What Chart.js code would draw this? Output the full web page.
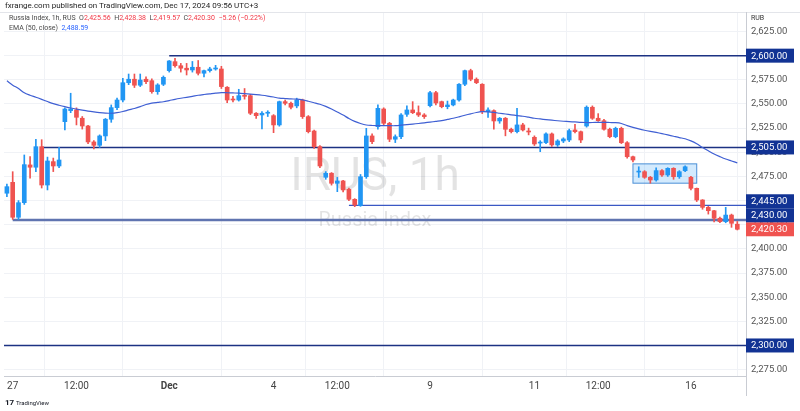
<!DOCTYPE html>
<html>
<head>
<meta charset="utf-8">
<script src="https://cdn.jsdelivr.net/npm/chart.js@4.4.0/dist/chart.umd.min.js"></script>
<style>
  html, body { margin: 0; padding: 0; background: #fff; }
  #wrap { position: relative; width: 800px; height: 411px; font-family: Roboto, "Liberation Sans", sans-serif; }
  #chart { position: absolute; left: 0; top: 0; }
  .hdr { position: absolute; white-space: nowrap; color: #4a4a4a; }
  .dn { color: #f23645; }
  .ema { color: #2962ff; }
</style>
</head>
<body>
<div id="wrap">
  <canvas id="chart" width="800" height="411"></canvas>
  <div class="hdr" style="left:5px;top:1px;font-size:8px;color:#1e1e1e">fxrange.com published on TradingView.com, Dec 17, 2024 09:56 UTC+3</div>
  <div class="hdr" style="left:9px;top:14px;font-size:7px">Russia Index, 1h, RUS&nbsp; O<span class="dn">2,425.56</span>&nbsp; H<span class="dn">2,428.38</span>&nbsp; L<span class="dn">2,419.57</span>&nbsp; C<span class="dn">2,420.30</span>&nbsp; <span class="dn">−5.26 (−0.22%)</span></div>
  <div class="hdr" style="left:9px;top:24px;font-size:7px">EMA (50, close)&nbsp; <span class="ema">2,488.59</span></div>
</div>
<script>
// trading days shown (Nov 27 – Dec 16), nine hourly bars per session
const days = ['27', '28', '29', '2', '3', '4', '5', '6', '9', '10', '11', '12', '13', '16'];
const sessionHours = ['10:00', '11:00', '12:00', '13:00', '14:00', '15:00', '16:00', '17:00', '18:00'];

// OHLC
const open = [
  2457.6, 2468.9, 2432.7, 2447.8, 2486.9, 2484.5, 2505.8, 2466.1, 2490.3, 2485.8,
  2531.7, 2543.1, 2543.8, 2535.2, 2527.2, 2510.7, 2507.2, 2516.9, 2534.2, 2546.2,
  2554.1, 2572.0, 2575.6, 2569.4, 2575.6, 2574.1, 2562.7, 2570.4, 2584.5, 2593.8,
  2589.6, 2587.0, 2585.2, 2588.0, 2581.8, 2584.5, 2586.2, 2586.2, 2567.3, 2554.8,
  2554.1, 2558.6, 2558.6, 2540.4, 2538.6, 2540.4, 2537.9, 2528.3, 2552.4, 2550.7,
  2548.0, 2554.1, 2536.9, 2522.0, 2505.8, 2474.1, 2478.3, 2467.9, 2470.3, 2461.7,
  2451.3, 2444.7, 2474.7, 2516.9, 2526.5, 2544.8, 2530.0, 2513.5, 2516.1, 2539.3,
  2543.8, 2541.0, 2538.6, 2548.2, 2561.7, 2552.4, 2547.2, 2549.0, 2554.1, 2570.4,
  2584.5, 2575.6, 2570.4, 2542.0, 2543.1, 2532.4, 2535.2, 2523.8, 2521.3, 2528.3,
  2522.0, 2515.5, 2509.5, 2510.0, 2519.0, 2507.6, 2511.7, 2512.7, 2523.1, 2521.3,
  2527.2, 2546.6, 2535.2, 2532.7, 2523.8, 2516.1, 2524.8, 2509.9, 2495.4, 2479.5,
  2479.9, 2474.1, 2471.3, 2481.0, 2476.5, 2483.4, 2474.7, 2480.9, 2474.1, 2462.7,
  2450.6, 2443.0, 2439.5, 2431.7, 2428.2, 2435.0, 2425.56
];
const high = [
  2467, 2479.9, 2450, 2497.2, 2495.5, 2513.4, 2513, 2495, 2494, 2505.2,
  2546, 2561.1, 2546, 2537, 2528, 2512, 2518, 2535, 2549, 2556,
  2576.6, 2581, 2581, 2581, 2578, 2576, 2571, 2579, 2595, 2597.3,
  2592, 2592, 2594, 2595, 2585, 2588, 2590, 2589, 2568, 2558,
  2565.2, 2566, 2560, 2541, 2542, 2543, 2539, 2553, 2554, 2552,
  2556, 2555, 2538, 2523, 2507, 2480, 2479, 2474, 2471, 2463,
  2452, 2477, 2524.8, 2519, 2549, 2546, 2531, 2518, 2540, 2548,
  2552.4, 2548, 2540, 2563, 2563, 2553, 2553, 2555, 2571, 2585,
  2586, 2577, 2571, 2546, 2544, 2536, 2536, 2525, 2545.5, 2530,
  2525, 2517, 2512, 2520, 2520, 2513, 2515, 2524, 2529, 2522,
  2548, 2548, 2540, 2534, 2525, 2526, 2526, 2511, 2496, 2485,
  2481, 2475, 2484, 2482, 2484, 2484, 2481, 2486, 2475, 2463,
  2451, 2444, 2440, 2433, 2443, 2436, 2428.38
];
const low = [
  2454, 2430.5, 2430.3, 2446, 2473.1, 2480, 2463, 2461, 2480, 2484,
  2523.1, 2541, 2528.3, 2524, 2509, 2503.4, 2505, 2512, 2531, 2544,
  2552, 2570, 2567, 2568, 2571, 2561.1, 2560, 2569, 2583, 2588,
  2583, 2580, 2583, 2580, 2578, 2583, 2585, 2566, 2551.3, 2552,
  2553, 2555, 2539, 2535, 2524.1, 2537, 2520.3, 2527, 2549, 2545,
  2546, 2535, 2520, 2504, 2484, 2472, 2466, 2459.2, 2459, 2450,
  2443.7, 2444, 2473, 2509, 2524, 2528, 2511, 2510, 2514, 2537,
  2540, 2537, 2535, 2547, 2549, 2546, 2545, 2548, 2553, 2569,
  2574, 2571, 2540, 2536, 2523.8, 2530, 2517, 2520, 2520, 2522,
  2518, 2507, 2500.6, 2509, 2506, 2506, 2510, 2511, 2520, 2510,
  2526, 2534, 2532, 2523, 2515, 2515, 2509, 2494, 2490, 2474,
  2473, 2468, 2470, 2475, 2475, 2472, 2473, 2480, 2461, 2449,
  2441, 2436, 2428, 2427, 2427, 2422.3, 2419.57
];
const close = [
  2464.4, 2432.7, 2447.8, 2487.2, 2484.5, 2505.8, 2466.1, 2491.0, 2485.8, 2492.0,
  2544.8, 2544.8, 2536.2, 2527.2, 2510.7, 2507.2, 2516.9, 2534.2, 2546.2, 2554.1,
  2572.0, 2575.6, 2569.4, 2574.8, 2573.1, 2562.7, 2569.7, 2577.6, 2594.5, 2589.6,
  2587.0, 2585.2, 2588.0, 2581.8, 2584.5, 2586.2, 2586.9, 2568.0, 2554.1, 2554.1,
  2558.6, 2557.9, 2540.4, 2537.9, 2540.4, 2541.0, 2528.3, 2552.4, 2550.7, 2546.6,
  2554.0, 2536.9, 2521.3, 2505.8, 2485.8, 2478.3, 2467.9, 2470.3, 2461.0, 2451.3,
  2445.4, 2474.7, 2516.9, 2511.0, 2545.5, 2530.0, 2513.5, 2516.1, 2538.6, 2543.8,
  2541.0, 2538.6, 2536.9, 2561.7, 2551.0, 2547.2, 2549.0, 2554.1, 2570.4, 2584.5,
  2575.6, 2572.0, 2542.0, 2543.8, 2532.4, 2535.2, 2523.8, 2521.3, 2528.3, 2523.1,
  2521.0, 2508.6, 2510.0, 2519.0, 2507.6, 2511.7, 2513.8, 2522.4, 2521.3, 2512.7,
  2546.6, 2535.2, 2532.7, 2523.8, 2516.1, 2524.8, 2509.9, 2495.4, 2492.0, 2480.0,
  2474.1, 2471.3, 2481.0, 2476.5, 2483.4, 2474.7, 2479.9, 2485.0, 2462.7, 2450.6,
  2443.0, 2439.5, 2431.7, 2428.2, 2435.0, 2426.5, 2420.30
];
// EMA(50, close) as drawn
const ema = [
  2574, 2569.5, 2566, 2561.5, 2559, 2557, 2554.8, 2552.5, 2550.3, 2548.7,
  2547.2, 2545.8, 2544.7, 2543.6, 2542.6, 2541.8, 2541.1, 2540.6, 2540.4, 2541,
  2542.2, 2543.8, 2545.3, 2547.2, 2549.4, 2550.8, 2551.6, 2552.3, 2553.5, 2554.8,
  2555.9, 2556.9, 2557.9, 2559, 2559.8, 2560.5, 2561.2, 2561.7, 2561.6, 2561.4,
  2561.2, 2560.7, 2560.1, 2559.6, 2559, 2558.2, 2557.2, 2556, 2555.6, 2555.2,
  2555, 2554.2, 2552.8, 2551.3, 2549.7, 2547.5, 2544.8, 2541.7, 2538.5, 2535,
  2532, 2529.8, 2528.2, 2527.7, 2527.5, 2527.5, 2527.5, 2527.5, 2528, 2528.6,
  2529.2, 2529.8, 2530.5, 2531.2, 2532, 2532.8, 2534, 2535.2, 2536.7, 2538.3,
  2539.8, 2541.2, 2542, 2541.8, 2541.2, 2540.4, 2539.6, 2538.8, 2538, 2537.3,
  2536.3, 2535.2, 2534.5, 2533.8, 2533.2, 2532.6, 2532.1, 2531.7, 2531.4, 2531,
  2530.8, 2530.8, 2531, 2531, 2530.8, 2530.6, 2529.8, 2527.6, 2525.8, 2524.2,
  2522.8, 2521.6, 2520.5, 2519.3, 2518, 2516.6, 2515.2, 2514, 2511.8, 2508.8,
  2505, 2501.5, 2498.2, 2495.5, 2493, 2491, 2489
];

// axis labels
const yTicks = [2275, 2300, 2325, 2350, 2375, 2400, 2425, 2450, 2475, 2500, 2525, 2550, 2575, 2600, 2625];
const xTickLabels = {
  '27 10:00': '27', '28 12:00': '12:00', '2 10:00': 'Dec', '4 10:00': '4', '5 12:00': '12:00',
  '9 10:00': '9', '11 10:00': '11', '12 12:00': '12:00', '16 10:00': '16'
};

// drawings on the chart
const rays = [
  { price: 2600, from: '2 10:00', color: '#1c3283', width: 1.5 },
  { price: 2505, from: '27 15:00', color: '#1c3283', width: 1.5 },
  { price: 2445, from: '5 14:00', color: '#3a58c4', width: 1.2 },
  { price: 2430, from: '27 10:00', color: '#6074b0', width: 2.5 },
  { price: 2300, from: null, color: '#1c3283', width: 1.5 }
];
const priceTags = [
  { price: 2600, color: '#123394' },
  { price: 2505, color: '#123394' },
  { price: 2445, color: '#123394' },
  { price: 2430, color: '#123394' },
  { price: 2420.30, color: '#f05350' },
  { price: 2300, color: '#123394' }
];
const rangeBox = { from: '12 18:00', to: '16 11:00', top: 2488, bottom: 2468 };

const categories = ['26 18:00'];
days.forEach(d => sessionHours.forEach(h => categories.push(d + ' ' + h)));
categories.push('17 10:00'); // empty slot right of the last bar

const UP = '#2196f3', DOWN = '#ef5350';
const colors = close.map((c, i) => (c >= open[i] ? UP : DOWN));
const fmt = v => v.toLocaleString('en-US', { minimumFractionDigits: 2, maximumFractionDigits: 2 });

const overlay = {
  id: 'overlay',
  beforeDatasetsDraw(chart) {
    const { ctx, chartArea: a, scales: { x, y } } = chart;
    ctx.save();
    // watermark
    const cx = (a.left + a.right) / 2;
    ctx.fillStyle = 'rgba(0,0,0,0.11)';
    ctx.textAlign = 'center';
    ctx.textBaseline = 'middle';
    ctx.font = '46px Roboto';
    ctx.fillText('IRUS, 1h', cx, a.top + (a.bottom - a.top) * 0.457);
    ctx.font = '20px Roboto';
    ctx.fillText('Russia Index', cx, a.top + (a.bottom - a.top) * 0.575);

    // consolidation box
    const bx1 = x.getPixelForValue(categories.indexOf(rangeBox.from));
    const bx2 = x.getPixelForValue(categories.indexOf(rangeBox.to));
    const by1 = y.getPixelForValue(rangeBox.top);
    const by2 = y.getPixelForValue(rangeBox.bottom);
    ctx.fillStyle = 'rgba(33,150,243,0.2)';
    ctx.fillRect(bx1, by1, bx2 - bx1, by2 - by1);
    ctx.strokeStyle = '#4a8fd6';
    ctx.lineWidth = 1;
    ctx.strokeRect(bx1, by1, bx2 - bx1, by2 - by1);

    // horizontal rays
    rays.forEach(r => {
      const py = y.getPixelForValue(r.price);
      const px = r.from ? x.getPixelForValue(categories.indexOf(r.from)) : a.left;
      ctx.strokeStyle = r.color;
      ctx.lineWidth = r.width;
      ctx.beginPath();
      ctx.moveTo(px, py);
      ctx.lineTo(a.right, py);
      ctx.stroke();
    });
    ctx.restore();
  },
  afterDraw(chart) {
    const { ctx, chartArea: a, scales: { y } } = chart;
    ctx.save();
    // frame lines
    ctx.strokeStyle = '#e3e5ea';
    ctx.lineWidth = 1;
    ctx.beginPath();
    ctx.moveTo(0, a.top + 0.5); ctx.lineTo(800, a.top + 0.5);
    ctx.stroke();
    ctx.strokeStyle = '#c9ccd3';
    ctx.beginPath();
    ctx.moveTo(a.right + 0.5, a.top); ctx.lineTo(a.right + 0.5, a.bottom + 20);
    ctx.stroke();

    // RUB label
    ctx.fillStyle = '#fff';
    ctx.fillRect(a.right + 1, a.top + 1, 48, 10);
    ctx.fillStyle = '#333';
    ctx.font = '7px Roboto';
    ctx.textAlign = 'left';
    ctx.textBaseline = 'middle';
    ctx.fillText('RUB', a.right + 5, a.top + 6);

    // price tags, pushed apart upwards where they overlap
    const h = 14;
    const tags = priceTags.map(t => ({ ...t, py: y.getPixelForValue(t.price) }))
      .sort((p, q) => q.py - p.py);
    for (let i = 1; i < tags.length; i++) {
      if (tags[i - 1].py - tags[i].py < h) tags[i].py = tags[i - 1].py - h;
    }
    ctx.font = '9.5px Roboto';
    tags.forEach(t => {
      ctx.fillStyle = t.color;
      ctx.fillRect(a.right, t.py - h / 2, 48, h);
      ctx.fillStyle = '#fff';
      ctx.fillText(fmt(t.price), a.right + 5, t.py + 0.5);
    });

    // TradingView logo
    ctx.fillStyle = '#131722';
    ctx.font = 'bold 8px Roboto';
    ctx.fillText('17', 5, 403);
    ctx.font = '6px Roboto';
    ctx.fillText('TradingView', 16, 403);
    ctx.restore();
  }
};

new Chart(document.getElementById('chart'), {
  type: 'bar',
  data: {
    labels: categories,
    datasets: [
      {
        type: 'line',
        data: ema,
        borderColor: '#3f5fd3',
        borderWidth: 1.2,
        pointRadius: 0,
        tension: 0.3,
        order: 0
      },
      {
        data: open.map((o, i) => [o, close[i]]),
        backgroundColor: colors,
        barThickness: 4,
        minBarLength: 1,
        grouped: false,
        order: 1
      },
      {
        data: low.map((l, i) => [l, high[i]]),
        backgroundColor: colors,
        barThickness: 1,
        grouped: false,
        order: 2
      }
    ]
  },
  options: {
    responsive: false,
    animation: false,
    layout: { padding: { left: 4, top: 12, right: 0, bottom: 15 } },
    plugins: { legend: { display: false }, tooltip: { enabled: false } },
    scales: {
      x: {
        type: 'category',
        afterBuildTicks: scale => {
          scale.ticks = scale.ticks.filter(t => xTickLabels[categories[t.value]]);
        },
        afterFit: scale => { scale.height = 20; },
        grid: { color: '#f0f2f6', drawTicks: false },
        border: { color: '#c9ccd3' },
        ticks: {
          autoSkip: false,
          maxRotation: 0,
          padding: 4,
          color: '#444',
          font: ctx => ({ family: 'Roboto', size: 10, weight: ctx.tick && ctx.tick.label === 'Dec' ? 'bold' : 'normal' }),
          callback: function (v) { return xTickLabels[this.getLabelForValue(v)] || ''; }
        }
      },
      y: {
        position: 'right',
        min: 2268.4,
        max: 2645.2,
        afterBuildTicks: scale => { scale.ticks = yTicks.map(v => ({ value: v })); },
        afterFit: scale => { scale.width = 54; },
        grid: { color: '#f0f2f6', drawTicks: false },
        border: { color: '#c9ccd3' },
        ticks: {
          padding: 5,
          color: '#555',
          font: { family: 'Roboto', size: 9.5 },
          callback: v => fmt(v)
        }
      }
    }
  },
  plugins: [overlay]
});
</script>
</body>
</html>
